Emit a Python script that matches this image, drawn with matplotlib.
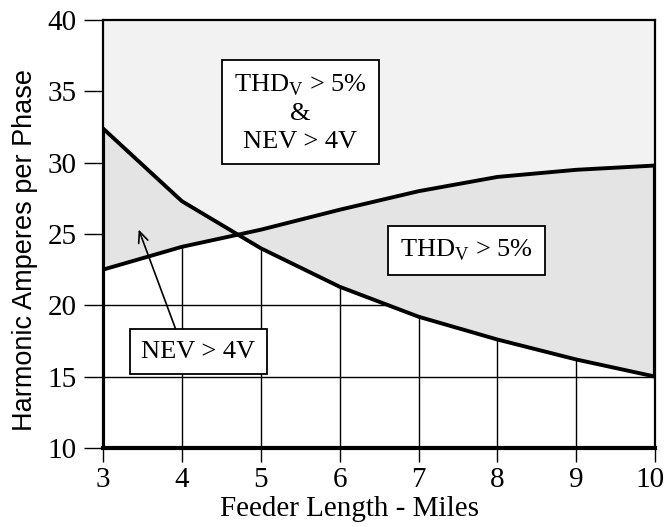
import numpy as np
import matplotlib
matplotlib.use("Agg")
import matplotlib.pyplot as plt
import matplotlib.transforms as mtransforms

plt.rcParams['font.family'] = 'Liberation Serif'
plt.rcParams['mathtext.fontset'] = 'custom'
plt.rcParams['mathtext.rm'] = 'Liberation Serif'

# feeder length in miles and the two limit curves (harmonic amps per phase)
miles = [3, 4, 5, 6, 7, 8, 9, 10]
thd_limit = [22.5, 24.1, 25.3, 26.7, 28.0, 29.0, 29.5, 29.8]
nev_limit = [32.4, 27.3, 24.0, 21.3, 19.2, 17.6, 16.2, 15.0]

xticks = [3, 4, 5, 6, 7, 8, 9, 10]
yticks = [10, 15, 20, 25, 30, 35, 40]

light = '#f2f2f2'
mid = '#e4e4e4'

fig = plt.figure(figsize=(6.67, 5.27), dpi=100)
ax = fig.add_axes([0.1544, 0.150, 0.828, 0.812])

ax.set_axisbelow(True)
ax.grid(True, color='black', linewidth=1.0)

# regions
ax.fill_between(miles, thd_limit, 40, color=light, linewidth=0, zorder=1)
ax.fill_between(miles, nev_limit, 40, color=light, linewidth=0, zorder=1)
ax.fill_between(miles, thd_limit, nev_limit, color=mid, linewidth=0, zorder=1.1)

# boundary curves
ax.plot(miles, thd_limit, color='black', lw=2.8, zorder=3)
ax.plot(miles, nev_limit, color='black', lw=2.8, zorder=3)
ax.plot([3, 3], [10, nev_limit[0]], color='black', lw=3.0, zorder=3, solid_capstyle='butt')
ax.plot([10, 10], [nev_limit[-1], thd_limit[-1]], color='black', lw=3.0, zorder=3, solid_capstyle='butt')

ax.set_xlim(3, 10)
ax.set_ylim(10, 40)
ax.set_xticks(xticks)
ax.set_yticks(yticks)

for s in ['top', 'right', 'left']:
    ax.spines[s].set_linewidth(1.6)
ax.spines['bottom'].set_linewidth(3.0)
for s in ax.spines.values():
    s.set_zorder(4)

ax.tick_params(axis='y', direction='out', length=14, width=1.0, pad=5, labelsize=21)
ax.tick_params(axis='x', direction='out', length=10, width=1.0, pad=4, labelsize=21)

# pull the last x label ("10") just inside the figure edge
last = ax.get_xticklabels()[-1]
last.set_transform(last.get_transform() + mtransforms.ScaledTranslation(-4 / 72, 0, fig.dpi_scale_trans))

ax.set_xlabel('Feeder Length - Miles', fontsize=21)
ax.set_ylabel('Harmonic Amperes per Phase', fontsize=19.5, family='Liberation Sans')
ax.xaxis.set_label_coords(0.446, -0.112)
ax.yaxis.set_label_coords(-0.118, 0.4626)

box = dict(boxstyle='square,pad=0.45', facecolor='white', edgecolor='black', linewidth=1.3)
ax.text(5.5, 33.5, 'THD$_{\\mathrm{V}}$ > 5%\n&\nNEV > 4V', ha='center', va='center',
        fontsize=19, bbox=box, zorder=5, linespacing=1.3)
ax.text(7.61, 23.84, 'THD$_{\\mathrm{V}}$ > 5%', ha='center', va='center',
        fontsize=19, bbox=box, zorder=5)
ax.text(4.21, 16.76, 'NEV > 4V', ha='center', va='center',
        fontsize=19, bbox=box, zorder=5)
ax.annotate('', xy=(3.44, 25.5), xytext=(3.93, 18.2),
            arrowprops=dict(arrowstyle='->,head_length=0.8,head_width=0.35', color='black', lw=1.2),
            zorder=5)

fig.savefig('out.png', dpi=100)
